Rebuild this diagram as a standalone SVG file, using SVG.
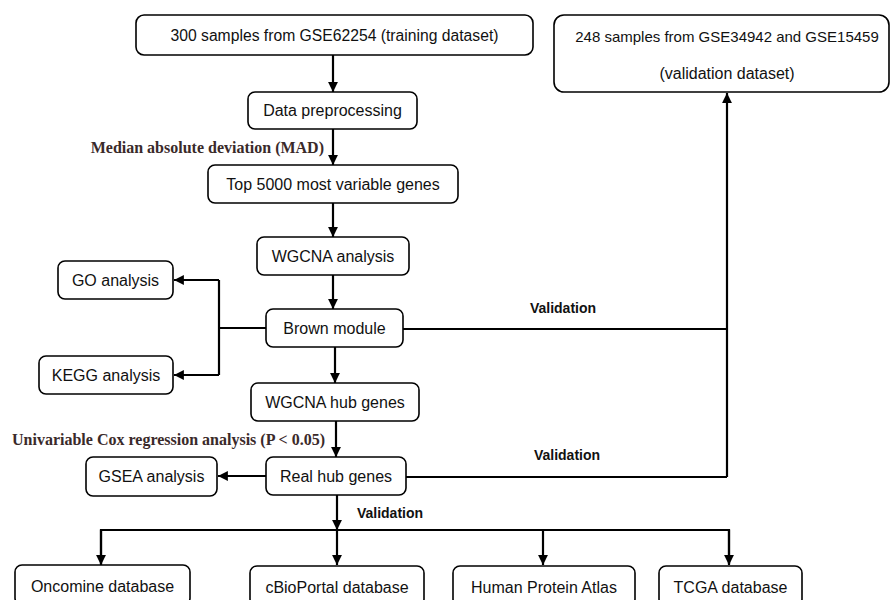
<svg xmlns="http://www.w3.org/2000/svg" width="890" height="600" viewBox="0 0 890 600">
<style>
.box{fill:#fff;stroke:#000;stroke-width:1.6}
.t{font-family:"Liberation Sans",Arial,sans-serif;font-size:16px;fill:#111;text-anchor:middle}
.v{font-family:"Liberation Sans",Arial,sans-serif;font-size:14px;font-weight:bold;fill:#111;text-anchor:middle}
.s{font-family:"Liberation Serif","Times New Roman",serif;font-size:16px;font-weight:bold;fill:#3a2a2a;text-anchor:end}
.c{fill:none;stroke:#000;stroke-width:2.2}
</style>
<defs>
<marker id="ah" viewBox="0 0 10 10" refX="10" refY="5" markerWidth="4.5" markerHeight="4.5" markerUnits="strokeWidth" orient="auto">
<path d="M0,0 L10,5 L0,10 Z" fill="#000"/>
</marker>
</defs>
<g id="connectors">
<line class="c" x1="333" y1="55" x2="333" y2="92" marker-end="url(#ah)"/>
<line class="c" x1="333" y1="129" x2="333" y2="165" marker-end="url(#ah)"/>
<line class="c" x1="333" y1="203" x2="333" y2="237" marker-end="url(#ah)"/>
<line class="c" x1="333" y1="275" x2="333" y2="309" marker-end="url(#ah)"/>
<polyline class="c" points="266,328 219,328"/>
<polyline class="c" points="219,280 219,375"/>
<line class="c" x1="219" y1="280" x2="174" y2="280" marker-end="url(#ah)"/>
<line class="c" x1="219" y1="375" x2="174" y2="375" marker-end="url(#ah)"/>
<polyline class="c" points="403,329 727,329"/>
<line class="c" x1="727" y1="477" x2="727" y2="93" marker-end="url(#ah)"/>
<line class="c" x1="335" y1="347" x2="335" y2="383" marker-end="url(#ah)"/>
<line class="c" x1="336" y1="421" x2="336" y2="457" marker-end="url(#ah)"/>
<line class="c" x1="266" y1="476" x2="218" y2="476" marker-end="url(#ah)"/>
<polyline class="c" points="406,477 727,477"/>
<line class="c" x1="337" y1="495" x2="337" y2="530" marker-end="url(#ah)"/>
<polyline class="c" points="101,564 101,530 729,530 729,564"/>
<line class="c" x1="101" y1="530" x2="101" y2="565" marker-end="url(#ah)"/>
<line class="c" x1="337" y1="530" x2="337" y2="565" marker-end="url(#ah)"/>
<line class="c" x1="543" y1="530" x2="543" y2="565" marker-end="url(#ah)"/>
<line class="c" x1="729" y1="530" x2="729" y2="565" marker-end="url(#ah)"/>
<text class="s" x="324" y="153">Median absolute deviation (MAD)</text>
<text class="s" x="325" y="445">Univariable Cox regression analysis (P &lt; 0.05)</text>
<text class="v" x="563" y="313">Validation</text>
<text class="v" x="567" y="460">Validation</text>
<text class="v" x="390" y="518">Validation</text>
</g>
<g id="n1"><rect class="box" x="136" y="15" width="397" height="40" rx="8"/><text class="t" x="334.5" y="41" textLength="328" lengthAdjust="spacingAndGlyphs">300 samples from GSE62254 (training dataset)</text></g>
<g id="n2"><rect class="box" x="554" y="15" width="335" height="77" rx="10"/><text class="t" x="727" y="42" style="font-size:15px">248 samples from GSE34942 and GSE15459</text><text class="t" x="727" y="79">(validation dataset)</text></g>
<g id="n3"><rect class="box" x="248" y="92" width="169" height="37" rx="7"/><text class="t" x="332.5" y="116">Data preprocessing</text></g>
<g id="n4"><rect class="box" x="208" y="165" width="250" height="38" rx="7"/><text class="t" x="333" y="190">Top 5000 most variable genes</text></g>
<g id="n5"><rect class="box" x="257" y="237" width="152" height="38" rx="7"/><text class="t" x="333" y="262">WGCNA analysis</text></g>
<g id="n6"><rect class="box" x="266" y="309" width="137" height="38" rx="7"/><text class="t" x="334.5" y="334">Brown module</text></g>
<g id="n7"><rect class="box" x="58" y="261" width="115" height="38" rx="7"/><text class="t" x="115.5" y="286">GO analysis</text></g>
<g id="n8"><rect class="box" x="39" y="356" width="134" height="38" rx="7"/><text class="t" x="106" y="381">KEGG analysis</text></g>
<g id="n9"><rect class="box" x="251" y="383" width="168" height="38" rx="7"/><text class="t" x="335" y="408">WGCNA hub genes</text></g>
<g id="n10"><rect class="box" x="266" y="457" width="140" height="38" rx="7"/><text class="t" x="336" y="482">Real hub genes</text></g>
<g id="n11"><rect class="box" x="86" y="457" width="131" height="39" rx="7"/><text class="t" x="151.5" y="482">GSEA analysis</text></g>
<g id="n12"><rect class="box" x="15" y="565" width="175" height="40" rx="7"/><text class="t" x="102.5" y="592">Oncomine database</text></g>
<g id="n13"><rect class="box" x="250" y="566" width="174" height="40" rx="7"/><text class="t" x="337" y="593">cBioPortal database</text></g>
<g id="n14"><rect class="box" x="453" y="566" width="182" height="40" rx="7"/><text class="t" x="544" y="593">Human Protein Atlas</text></g>
<g id="n15"><rect class="box" x="659" y="566" width="143" height="40" rx="7"/><text class="t" x="730.5" y="593">TCGA database</text></g>
</svg>
